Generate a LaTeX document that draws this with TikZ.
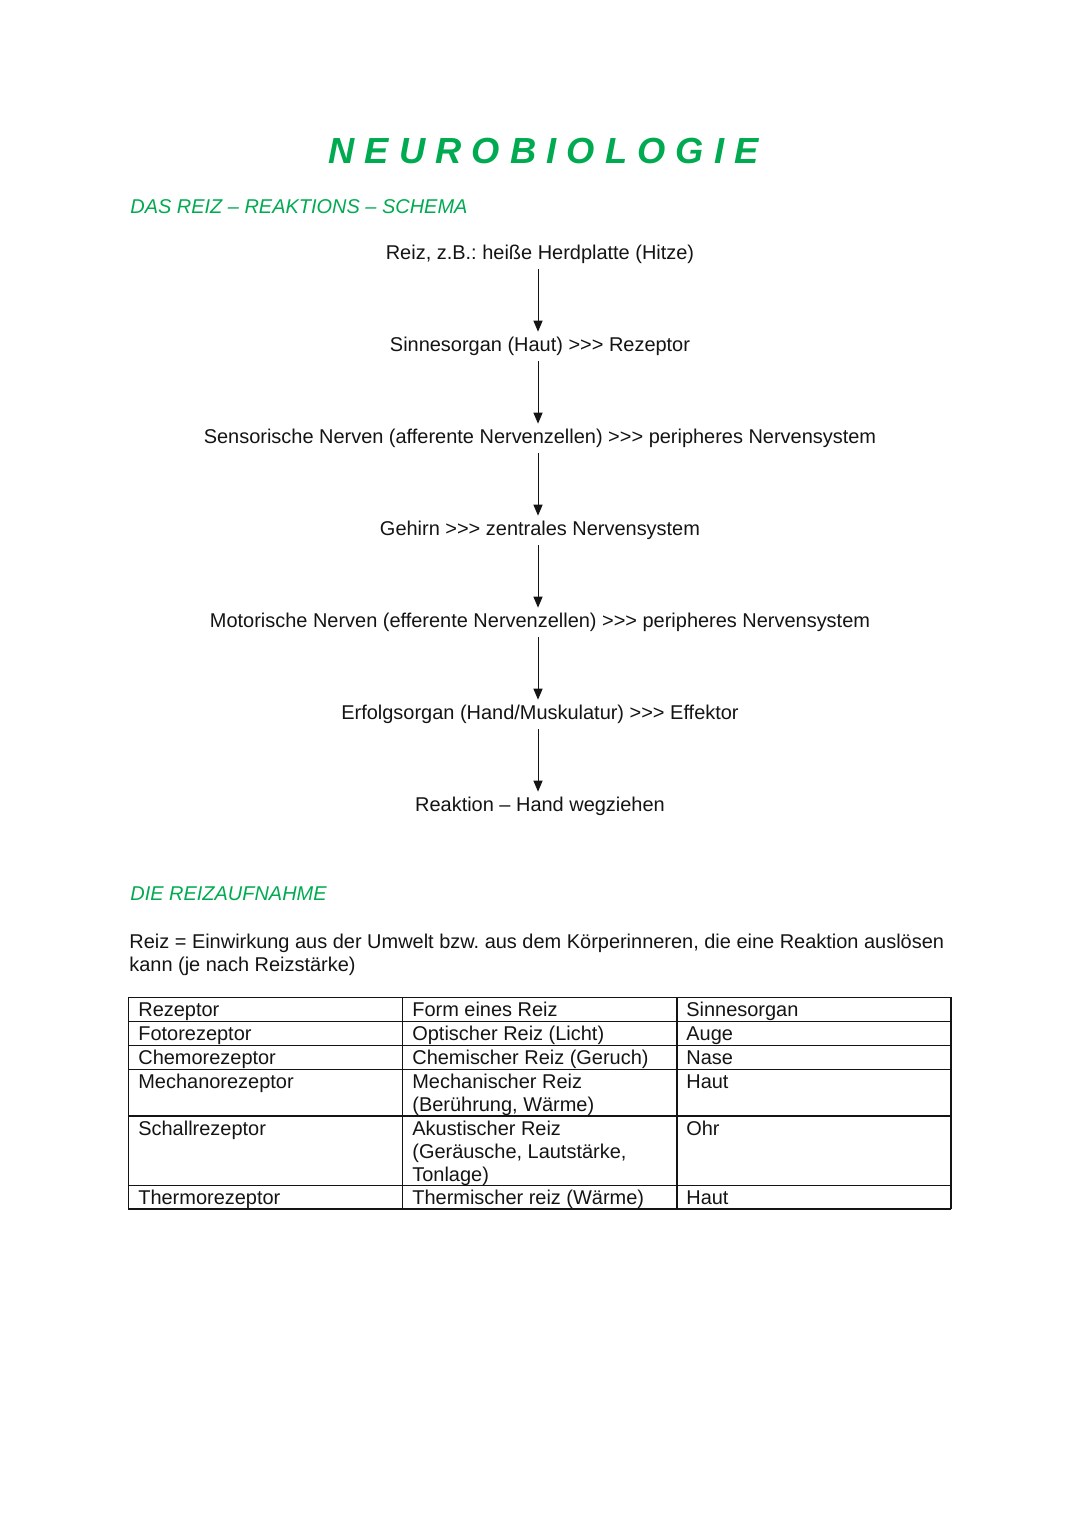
\documentclass[tikz,border=0pt]{standalone}
\usepackage{fontspec}
\setmainfont{Liberation Sans}
\usetikzlibrary{arrows.meta}
\definecolor{tgreen}{RGB}{0,170,80}
\definecolor{ink}{RGB}{20,20,20}
\newcommand\tripgt{>\kern0pt>\kern0pt>}
\frenchspacing
\begin{document}
\frenchspacing
\begin{tikzpicture}[x=0.5512pt,y=-0.5512pt,
  txt/.style={font=\fontsize{11pt}{13.3pt}\selectfont\frenchspacing, inner sep=0pt, text=ink},
  flow/.style={txt, anchor=base, text height=8pt, text depth=2.5pt},
  head/.style={txt, anchor=base west, text=tgreen, font=\fontsize{11pt}{13pt}\selectfont\itshape},
  line/.style={txt, anchor=base west},
  cell/.style={txt, anchor=base west},
  arr/.style={draw=ink, line width=0.5pt, -{Triangle[length=6pt,width=5pt]}, shorten <=3pt, shorten >=2.5pt},
  gridline/.style={draw=ink, line width=0.8pt}]
\useasboundingbox (0,0) rectangle (1080,1528);

% title and headings
\node[anchor=base west, inner sep=0pt, text=tgreen,
  font=\fontsize{20pt}{24pt}\selectfont\bfseries\itshape\addfontfeature{LetterSpace=28}]
  (title) at (328,163) {NEUROBIOLOGIE};
\node[head] (h1) at (130,213) {DAS REIZ – REAKTIONS – SCHEMA};

% flow chain
\node[flow] (r1) at (540,259) {Reiz, z.B.: heiße Herdplatte (Hitze)};
\node[flow] (r2) at (540,351) {Sinnesorgan (Haut) \tripgt{} Rezeptor};
\node[flow] (r3) at (540,443) {Sensorische Nerven (afferente Nervenzellen) \tripgt{} peripheres Nervensystem};
\node[flow] (r4) at (540,535) {Gehirn \tripgt{} zentrales Nervensystem};
\node[flow] (r5) at (540,627) {Motorische Nerven (efferente Nervenzellen) \tripgt{} peripheres Nervensystem};
\node[flow] (r6) at (540,719) {Erfolgsorgan (Hand/Muskulatur) \tripgt{} Effektor};
\node[flow] (r7) at (540,811) {Reaktion – Hand wegziehen};

\foreach \a/\b in {r1/r2,r2/r3,r3/r4,r4/r5,r5/r6,r6/r7}
  \draw[arr] ([xshift=-1.1pt]\a.south) -- ([xshift=-1.1pt]\b.north);

% second section
\node[head] (h2) at (130,900) {DIE REIZAUFNAHME};
\node[line] (p1) at (129,948) {Reiz = Einwirkung aus der Umwelt bzw. aus dem Körperinneren, die eine Reaktion auslösen};
\node[line] (p2) at (129,971) {kann (je nach Reizstärke)};

% table grid
\foreach \y in {997.3,1021.5,1045.7,1069.3,1116,1185.7,1209}
  \draw[gridline] (128.3,\y) -- (951,\y);
\foreach \x in {128.3,402.5,677,951}
  \draw[gridline] (\x,997.3) -- (\x,1209);

% table texts
\node[cell] (a1) at (138,1016.5) {Rezeptor};
\node[cell] (b1) at (412,1016.5) {Form eines Reiz};
\node[cell] (c1) at (686,1016.5) {Sinnesorgan};
\node[cell] (a2) at (138,1040.7) {Fotorezeptor};
\node[cell] (b2) at (412,1040.7) {Optischer Reiz (Licht)};
\node[cell] (c2) at (686,1040.7) {Auge};
\node[cell] (a3) at (138,1064.9) {Chemorezeptor};
\node[cell] (b3) at (412,1064.9) {Chemischer Reiz (Geruch)};
\node[cell] (c3) at (686,1064.9) {Nase};
\node[cell] (a4) at (138,1088.5) {Mechanorezeptor};
\node[cell] (b4) at (412,1088.5) {Mechanischer Reiz};
\node[cell] (b4b) at (412,1111.8) {(Berührung, Wärme)};
\node[cell] (c4) at (686,1088.5) {Haut};
\node[cell] (a5) at (138,1135.2) {Schallrezeptor};
\node[cell] (b5) at (412,1135.2) {Akustischer Reiz};
\node[cell] (b5b) at (412,1158.5) {(Geräusche, Lautstärke,};
\node[cell] (b5c) at (412,1181.8) {Tonlage)};
\node[cell] (c5) at (686,1135.2) {Ohr};
\node[cell] (a6) at (138,1204.9) {Thermorezeptor};
\node[cell] (b6) at (412,1204.9) {Thermischer reiz (Wärme)};
\node[cell] (c6) at (686,1204.9) {Haut};
\end{tikzpicture}
\end{document}
